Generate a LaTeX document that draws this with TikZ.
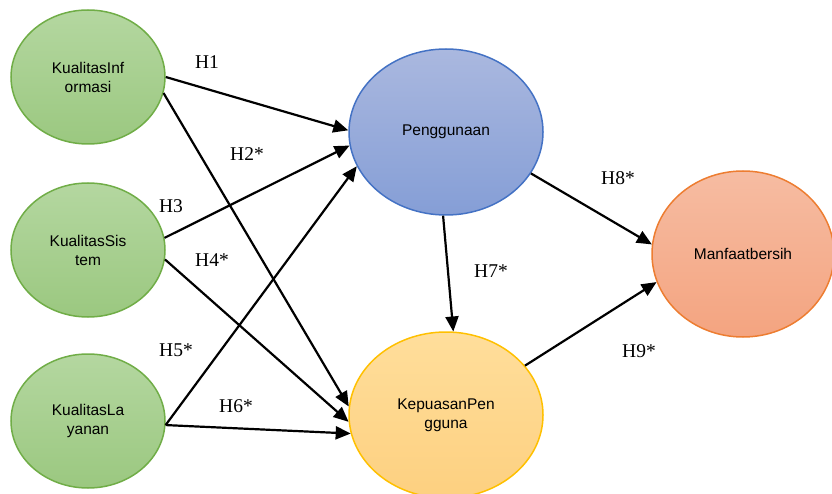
\documentclass[tikz,border=0pt]{standalone}
\usepackage{fontspec}
\setmainfont{Liberation Serif}
\newfontfamily\nodefont{Liberation Sans}
\usetikzlibrary{shapes.geometric,arrows.meta}
\definecolor{gtop}{RGB}{180,215,160}
\definecolor{gbot}{RGB}{155,200,128}
\definecolor{gline}{RGB}{112,173,71}
\definecolor{btop}{RGB}{170,184,223}
\definecolor{bbot}{RGB}{133,158,214}
\definecolor{bline}{RGB}{68,114,196}
\definecolor{ytop}{RGB}{255,222,155}
\definecolor{ybot}{RGB}{253,208,128}
\definecolor{yline}{RGB}{255,192,0}
\definecolor{otop}{RGB}{246,188,162}
\definecolor{obot}{RGB}{244,164,128}
\definecolor{oline}{RGB}{237,125,49}
\tikzset{
  latent/.style={ellipse, line width=1.5pt, align=center, inner sep=0pt,
    font=\nodefont\fontsize{15.5}{19}\selectfont},
  small/.style={latent, minimum width=154pt, minimum height=134pt,
    draw=gline, top color=gtop, bottom color=gbot},
  big/.style={latent, minimum width=194pt, minimum height=166pt},
  path/.style={line width=2.2pt, -{Triangle[length=15pt,width=13pt]}},
  hyp/.style={font=\fontsize{19.5}{22}\selectfont, inner sep=0pt}
}
\begin{document}
\begin{tikzpicture}[x=1pt,y=-1pt]
\useasboundingbox (0,0) rectangle (832,494);
\node[small] (KI) at (88,77) {KualitasInf\\ormasi};
\node[small] (KS) at (88,250) {KualitasSis\\tem};
\node[small] (KL) at (88,421) {KualitasLa\\yanan};
\node[big, draw=bline, top color=btop, bottom color=bbot] (P) at (446,132) {Penggunaan};
\node[big, draw=yline, top color=ytop, bottom color=ybot] (KP) at (446,415) {KepuasanPen\\gguna};
\node[big, minimum width=182pt, draw=oline, top color=otop, bottom color=obot] (M) at (743,254) {Manfaatbersih};

\draw[path] (KI.0) -- (P.179);
\draw[path] (KI.-12) -- (KP.175);
\draw[path] (KS.9) -- (P.188);
\draw[path] (KS.-7) -- (KP.184);
\draw[path] (KL.-3) -- (P.201);
\draw[path] (KL.-3) -- (KP.191);
\draw[path] (P.-92) -- (KP.85);
\draw[path] (P.-26) -- (M.174);
\draw[path] (KP.32) -- (M.198);

\node[hyp] (h1) at (207,62) {H1};
\node[hyp] (h2) at (247,154) {H2*};
\node[hyp] (h3) at (171,206) {H3};
\node[hyp] (h4) at (212,260) {H4*};
\node[hyp] (h5) at (176,350) {H5*};
\node[hyp] (h6) at (236,406) {H6*};
\node[hyp] (h7) at (491,271) {H7*};
\node[hyp] (h8) at (618,178) {H8*};
\node[hyp] (h9) at (639,351) {H9*};
\end{tikzpicture}
\end{document}
